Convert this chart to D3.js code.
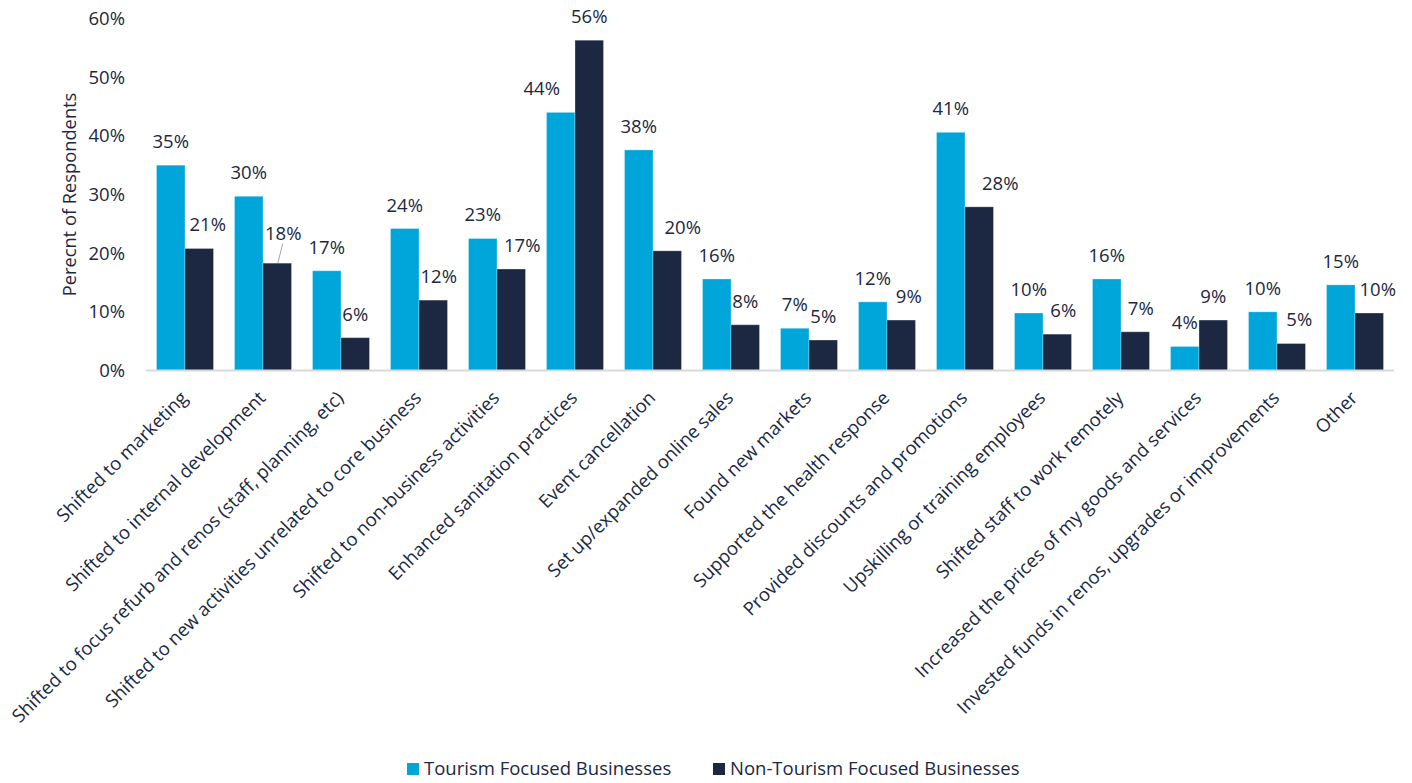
<!DOCTYPE html>
<html>
<head>
<meta charset="utf-8">
<script src="https://cdn.jsdelivr.net/npm/d3@7/dist/d3.min.js"></script>
<style>
  html, body { margin: 0; padding: 0; background: #ffffff; }
  svg { display: block; font-family: "Open Sans", sans-serif; }
</style>
</head>
<body>
<svg id="chart" width="1412" height="783"></svg>
<script>
// Business responses, share of respondents by business type
const categories = [
  "Shifted to marketing",
  "Shifted to internal development",
  "Shifted to focus refurb and renos (staff, planning, etc)",
  "Shifted to new activities unrelated to core business",
  "Shifted to non-business activities",
  "Enhanced sanitation practices",
  "Event cancellation",
  "Set up/expanded online sales",
  "Found new markets",
  "Supported the health response",
  "Provided discounts and promotions",
  "Upskilling or training employees",
  "Shifted staff to work remotely",
  "Increased the prices of my goods and services",
  "Invested funds in renos, upgrades or improvements",
  "Other"
];
const seriesNames = ["Tourism Focused Businesses", "Non-Tourism Focused Businesses"];
const tourism    = [0.350, 0.297, 0.170, 0.242, 0.225, 0.440, 0.376, 0.156, 0.072, 0.117, 0.406, 0.098, 0.156, 0.041, 0.100, 0.146];
const nonTourism = [0.208, 0.183, 0.056, 0.120, 0.173, 0.563, 0.204, 0.078, 0.052, 0.086, 0.279, 0.062, 0.066, 0.086, 0.046, 0.098];
const yTicks = [0, 0.1, 0.2, 0.3, 0.4, 0.5, 0.6];

const colors = ["#00a5d9", "#1c2841"];
const textColor = "#1c2841";
const fontSize = "18.5px";

// small hand adjustments to label placement so neighbouring labels stay clear
// key: series-index, dx/dy in px, leader: draw a connector to the bar
const labelNudge = {
  "1-0": {dx: 8.5}, "1-1": {dx: 6, dy: -6, leader: true}, "1-3": {dx: 5.5},
  "1-4": {dx: 11}, "0-5": {dx: -19}, "1-6": {dx: 15.5}, "1-9": {dx: 7.5},
  "1-10": {dx: 21}, "1-11": {dx: 6}, "1-12": {dx: 5.5}, "1-14": {dx: 8},
  "1-15": {dx: 8.5}
};

const svg = d3.select("#chart");
const x0 = 146, x1 = 1394, yBase = 370.5, yTop = 18.5;

const x = d3.scaleBand().domain(categories).range([x0, x1]).paddingInner(0.269).paddingOuter(0.1345);
const xs = d3.scaleBand().domain(d3.range(seriesNames.length)).range([0, x.bandwidth()]).padding(0);
const y = d3.scaleLinear().domain([0, 0.6]).range([yBase, yTop]);

const fmt = d3.format(".0%");
const series = [tourism, nonTourism];

// y axis (labels only)
const yAxis = d3.axisLeft(y).tickValues(yTicks).tickFormat(fmt).tickSize(0).tickPadding(0);
const gy = svg.append("g").attr("transform", "translate(125,0)").call(yAxis);
gy.select(".domain").remove();
gy.selectAll("text").attr("fill", textColor).style("font-size", fontSize).style("font-family", "Open Sans");

// y axis title
svg.append("text")
  .attr("transform", `translate(76,194.5) rotate(-90)`)
  .attr("text-anchor", "middle")
  .attr("fill", textColor)
  .style("font-size", "18.3px")
  .text("Perecnt of Respondents");

// bars
const groups = svg.append("g").selectAll("g")
  .data(categories)
  .join("g")
  .attr("transform", d => `translate(${x(d)},0)`);

series.forEach((vals, s) => {
  groups.append("rect")
    .attr("x", (d, i) => xs(s))
    .attr("width", xs.bandwidth())
    .attr("y", (d, i) => y(vals[i]))
    .attr("height", (d, i) => yBase - y(vals[i]))
    .attr("fill", colors[s])
    .attr("stroke", "rgba(255,255,255,0.3)")
    .attr("stroke-width", 1);
});

// baseline
svg.append("line")
  .attr("x1", x0).attr("x2", x1)
  .attr("y1", yBase).attr("y2", yBase)
  .attr("stroke", "#d9d9d9").attr("stroke-width", 2);

// value labels
series.forEach((vals, s) => {
  groups.each(function(d, i) {
    const n = labelNudge[`${s}-${i}`] || {};
    const cx = xs(s) + xs.bandwidth() / 2;
    const top = y(vals[i]);
    const lx = cx + (n.dx || 0);
    const ly = top - 23.5 + (n.dy || 0);
    const g = d3.select(this);
    if (n.leader) {
      g.append("line")
        .attr("x1", lx - 0.5).attr("y1", ly + 10)
        .attr("x2", cx + 0.5).attr("y2", top)
        .attr("stroke", "#a6a6a6").attr("stroke-width", 1);
    }
    g.append("text")
      .attr("x", lx).attr("y", ly)
      .attr("dy", "0.35em")
      .attr("text-anchor", "middle")
      .attr("fill", textColor)
      .style("font-size", fontSize)
      .text(fmt(vals[i]));
  });
});

// category labels, rotated
svg.append("g").selectAll("text")
  .data(categories)
  .join("text")
  .attr("transform", d => `translate(${x(d) + x.bandwidth() / 2 - 1},${yBase + 24}) rotate(-45)`)
  .attr("text-anchor", "end")
  .attr("dy", "0.35em")
  .attr("fill", textColor)
  .style("font-size", fontSize)
  .text(d => d);

// legend
const legend = svg.append("g");
const legendPos = [407, 713];
seriesNames.forEach((name, s) => {
  legend.append("rect")
    .attr("x", legendPos[s]).attr("y", 763)
    .attr("width", 12).attr("height", 12)
    .attr("fill", colors[s]);
  legend.append("text")
    .attr("x", legendPos[s] + 17).attr("y", 769)
    .attr("dy", "0.35em")
    .attr("fill", textColor)
    .style("font-size", fontSize)
    .text(name);
});
</script>
</body>
</html>
